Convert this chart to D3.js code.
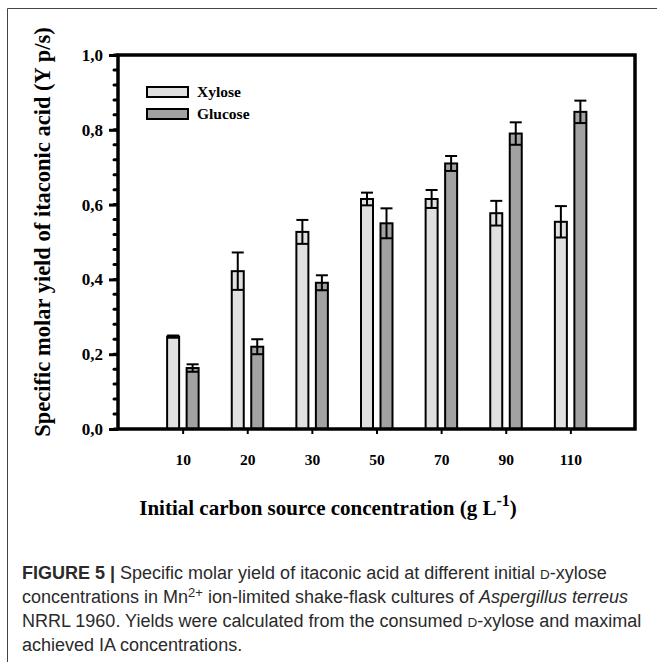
<!DOCTYPE html>
<html>
<head>
<meta charset="utf-8">
<script src="https://cdn.jsdelivr.net/npm/d3@7"></script>
<style>
  html, body { margin: 0; padding: 0; background: #fff; }
  svg { display: block; }
</style>
</head>
<body>
<svg id="chart" width="657" height="662"></svg>
<script>
// ---- data ----
const categories = ["10", "20", "30", "50", "70", "90", "110"];
const xyloseValues = [0.247, 0.422, 0.527, 0.615, 0.615, 0.577, 0.554];
const xyloseErrors = [0.003, 0.05, 0.032, 0.017, 0.024, 0.033, 0.042];
const glucoseValues = [0.163, 0.22, 0.391, 0.55, 0.71, 0.79, 0.848];
const glucoseErrors = [0.01, 0.02, 0.02, 0.04, 0.02, 0.03, 0.03];
const seriesNames = ["Xylose", "Glucose"];
const yTickValues = [0, 0.2, 0.4, 0.6, 0.8, 1.0];
const yTickLabels = ["0,0", "0,2", "0,4", "0,6", "0,8", "1,0"];

(function () {
const colors = { Xylose: "#e0e0e0", Glucose: "#a2a2a2" };

const svg = d3.select("#chart");
const W = 657, H = 662;
const pL = 118, pR = 635, pT = 55, pB = 429;

// outer figure frame (left + top)
svg.append("line").attr("x1", 7.5).attr("y1", 8.5).attr("x2", 7.5).attr("y2", H)
  .attr("stroke", "#444").attr("stroke-width", 1);
svg.append("line").attr("x1", 7.5).attr("y1", 8.5).attr("x2", W).attr("y2", 8.5)
  .attr("stroke", "#444").attr("stroke-width", 1);

const x = d3.scalePoint().domain(categories).range([pL, pR]).padding(1);
const y = d3.scaleLinear().domain([0, 1]).range([pB, pT]);

const serif = "'Liberation Serif', 'Times New Roman', serif";

// bars
const series = [
  { name: "Xylose", values: xyloseValues, errors: xyloseErrors, off: -15.5 },
  { name: "Glucose", values: glucoseValues, errors: glucoseErrors, off: 4 }
];
const barW = 12;
series.forEach(s => {
  const g = svg.append("g");
  categories.forEach((c, i) => {
    const cx = x(c) + s.off;
    const v = s.values[i], e = s.errors[i];
    g.append("rect")
      .attr("x", cx).attr("y", y(v))
      .attr("width", barW).attr("height", y(0) - y(v))
      .attr("fill", colors[s.name]).attr("stroke", "#000").attr("stroke-width", 2);
    const mx = cx + barW / 2;
    g.append("line").attr("x1", mx).attr("x2", mx).attr("y1", y(v + e)).attr("y2", y(v - e))
      .attr("stroke", "#000").attr("stroke-width", 2);
    g.append("line").attr("x1", mx - 6).attr("x2", mx + 6).attr("y1", y(v + e)).attr("y2", y(v + e))
      .attr("stroke", "#000").attr("stroke-width", 2);
    g.append("line").attr("x1", mx - 6).attr("x2", mx + 6).attr("y1", y(v - e)).attr("y2", y(v - e))
      .attr("stroke", "#000").attr("stroke-width", 2);
  });
});

// plot frame
svg.append("rect").attr("x", pL).attr("y", pT)
  .attr("width", pR - pL).attr("height", pB - pT)
  .attr("fill", "none").attr("stroke", "#000").attr("stroke-width", 3.5);

// y axis minor ticks
const minor = d3.range(0, 1.0001, 0.04).map(v => +v.toFixed(2));
svg.append("g").selectAll("line").data(minor).join("line")
  .attr("x1", pL - 1).attr("x2", pL - 4)
  .attr("y1", d => y(d)).attr("y2", d => y(d))
  .attr("stroke", "#000").attr("stroke-width", 3).attr("stroke-linecap", "round");

// y axis major ticks + labels
const yAxis = d3.axisLeft(y).tickValues(yTickValues)
  .tickFormat((d, i) => yTickLabels[i]).tickSize(9).tickPadding(6);
const ya = svg.append("g").attr("transform", `translate(${pL},0)`).call(yAxis);
ya.select(".domain").remove();
ya.selectAll(".tick line").attr("stroke", "#000").attr("stroke-width", 3);
ya.selectAll(".tick text").attr("font-family", serif).attr("font-weight", "bold")
  .attr("font-size", 17).attr("fill", "#000");

// x axis
const xAxis = d3.axisBottom(x).tickSize(5).tickPadding(20);
const xa = svg.append("g").attr("transform", `translate(0,${pB})`).call(xAxis);
xa.select(".domain").remove();
xa.selectAll(".tick line").attr("stroke", "#000").attr("stroke-width", 2);
xa.selectAll(".tick text").attr("font-family", serif).attr("font-weight", "bold")
  .attr("font-size", 15.5).attr("fill", "#000");

// legend
const legend = svg.append("g");
seriesNames.forEach((n, i) => {
  const ly = 87 + i * 22;
  legend.append("rect").attr("x", 147).attr("y", ly).attr("width", 41).attr("height", 10)
    .attr("fill", colors[n]).attr("stroke", "#000").attr("stroke-width", 2);
  legend.append("text").attr("x", 197).attr("y", ly + 10)
    .attr("font-family", serif).attr("font-weight", "bold").attr("font-size", 15.5)
    .text(n);
});

// y axis title
const yt = svg.append("text")
  .attr("transform", "translate(50,232) rotate(-90)")
  .attr("text-anchor", "middle")
  .attr("font-family", serif).attr("font-weight", "bold").attr("font-size", 22.5);
yt.append("tspan").text("Specific molar yield of itaconic acid (Y p/s)");

// x axis title
const xt = svg.append("text")
  .attr("x", 328).attr("y", 515)
  .attr("text-anchor", "middle")
  .attr("font-family", serif).attr("font-weight", "bold").attr("font-size", 21);
xt.append("tspan").text("Initial carbon source concentration (g L");
xt.append("tspan").attr("dy", -9).attr("font-size", 16).text("-1");
xt.append("tspan").attr("dy", 9).text(")");

// caption
const sans = "'Liberation Sans', Arial, sans-serif";
const cap = svg.append("g").attr("font-family", sans).attr("font-size", 18).attr("fill", "#2a2a2a");
const l1 = cap.append("text").attr("x", 22).attr("y", 579);
l1.append("tspan").attr("font-weight", "bold").text("FIGURE 5 | ");
l1.append("tspan").text("Specific molar yield of itaconic acid at different initial ");
l1.append("tspan").attr("font-size", 13.5).text("D");
l1.append("tspan").text("-xylose");
const l2 = cap.append("text").attr("x", 22).attr("y", 603);
l2.append("tspan").text("concentrations in Mn");
l2.append("tspan").attr("dy", -6).attr("font-size", 13).text("2+");
l2.append("tspan").attr("dy", 6).text(" ion-limited shake-flask cultures of ");
l2.append("tspan").attr("font-style", "italic").text("Aspergillus terreus");
const l3 = cap.append("text").attr("x", 22).attr("y", 627);
l3.append("tspan").text("NRRL 1960. Yields were calculated from the consumed ");
l3.append("tspan").attr("font-size", 13.5).text("D");
l3.append("tspan").text("-xylose and maximal");
cap.append("text").attr("x", 22).attr("y", 651).text("achieved IA concentrations.");
})();
</script>
</body>
</html>
